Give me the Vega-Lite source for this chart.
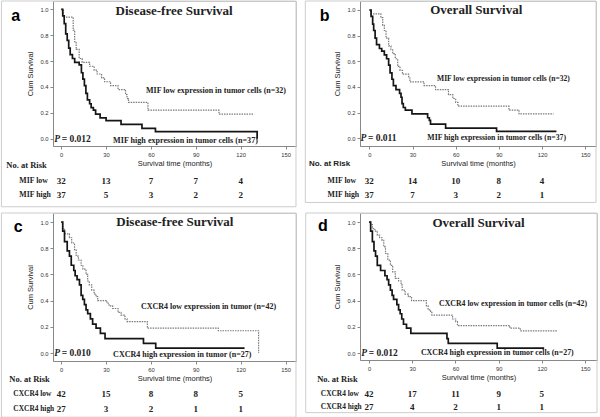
{
"$schema":"https://vega.github.io/schema/vega-lite/v6.json",
"padding":{"left":0,"top":0,"right":2,"bottom":0},
"columns":2,
"spacing":{"row":4,"column":7},
"config":{
 "view":{"stroke":"#c4c4c4","strokeWidth":1},
 "text":{"font":"Liberation Serif","fontWeight":"bold","fontSize":9,"color":"#222","baseline":"middle"},
 "rect":{"fillOpacity":0,"stroke":"#cdcdcd","strokeWidth":1},
 "axis":{"labelFont":"Liberation Sans","labelFontSize":5.8,"labelColor":"#333","labelOverlap":false,"labelFlush":false,"titleFont":"Liberation Sans","titleFontSize":7.5,"titleFontWeight":"normal","titleColor":"#222","tickSize":3,"tickColor":"#888","domainColor":"#888","grid":false}
},
"datasets":{
 "km_a":[
  {"group":"low","t":0,"s":1},{"group":"low","t":1.5,"s":0.94},{"group":"low","t":8,"s":0.84},{"group":"low","t":9,"s":0.75},{"group":"low","t":10,"s":0.69},{"group":"low","t":12,"s":0.62},{"group":"low","t":14,"s":0.59},{"group":"low","t":19,"s":0.56},{"group":"low","t":22,"s":0.53},{"group":"low","t":24,"s":0.5},{"group":"low","t":27,"s":0.47},{"group":"low","t":29,"s":0.44},{"group":"low","t":33,"s":0.41},{"group":"low","t":38,"s":0.38},{"group":"low","t":43,"s":0.34},{"group":"low","t":44,"s":0.31},{"group":"low","t":45,"s":0.28},{"group":"low","t":58,"s":0.22},{"group":"low","t":105.5,"s":0.19},{"group":"low","t":129,"s":0.19},
  {"group":"high","t":0,"s":1},{"group":"high","t":1,"s":0.95},{"group":"high","t":2,"s":0.89},{"group":"high","t":3,"s":0.81},{"group":"high","t":4,"s":0.76},{"group":"high","t":5,"s":0.7},{"group":"high","t":6,"s":0.65},{"group":"high","t":7.5,"s":0.62},{"group":"high","t":9,"s":0.59},{"group":"high","t":12,"s":0.57},{"group":"high","t":13.5,"s":0.51},{"group":"high","t":14.5,"s":0.46},{"group":"high","t":15.5,"s":0.41},{"group":"high","t":16.5,"s":0.35},{"group":"high","t":17.5,"s":0.3},{"group":"high","t":19,"s":0.27},{"group":"high","t":20,"s":0.24},{"group":"high","t":21.5,"s":0.22},{"group":"high","t":23,"s":0.19},{"group":"high","t":26,"s":0.16},{"group":"high","t":30,"s":0.14},{"group":"high","t":40,"s":0.11},{"group":"high","t":54,"s":0.08},{"group":"high","t":63,"s":0.054},{"group":"high","t":131,"s":0}
 ],
 "km_b":[
  {"group":"low","t":0,"s":1},{"group":"low","t":1,"s":0.97},{"group":"low","t":8,"s":0.94},{"group":"low","t":9.3,"s":0.88},{"group":"low","t":10.4,"s":0.84},{"group":"low","t":11.6,"s":0.78},{"group":"low","t":13.4,"s":0.72},{"group":"low","t":15,"s":0.69},{"group":"low","t":16.2,"s":0.66},{"group":"low","t":18,"s":0.62},{"group":"low","t":19.7,"s":0.56},{"group":"low","t":21.3,"s":0.53},{"group":"low","t":23,"s":0.5},{"group":"low","t":27.3,"s":0.47},{"group":"low","t":28.2,"s":0.44},{"group":"low","t":38,"s":0.41},{"group":"low","t":46,"s":0.38},{"group":"low","t":55,"s":0.34},{"group":"low","t":58,"s":0.31},{"group":"low","t":60,"s":0.28},{"group":"low","t":61.5,"s":0.25},{"group":"low","t":97,"s":0.22},{"group":"low","t":104,"s":0.19},{"group":"low","t":128,"s":0.19},
  {"group":"high","t":0,"s":1},{"group":"high","t":1.2,"s":0.95},{"group":"high","t":2.3,"s":0.89},{"group":"high","t":3,"s":0.84},{"group":"high","t":4,"s":0.78},{"group":"high","t":5,"s":0.73},{"group":"high","t":7,"s":0.7},{"group":"high","t":8.6,"s":0.68},{"group":"high","t":10.4,"s":0.65},{"group":"high","t":12,"s":0.62},{"group":"high","t":13.4,"s":0.57},{"group":"high","t":14.4,"s":0.51},{"group":"high","t":15.7,"s":0.46},{"group":"high","t":16.7,"s":0.41},{"group":"high","t":18.5,"s":0.38},{"group":"high","t":21,"s":0.35},{"group":"high","t":22,"s":0.32},{"group":"high","t":22.7,"s":0.27},{"group":"high","t":23.6,"s":0.24},{"group":"high","t":25,"s":0.22},{"group":"high","t":29.6,"s":0.19},{"group":"high","t":40.5,"s":0.16},{"group":"high","t":41.7,"s":0.14},{"group":"high","t":42.5,"s":0.11},{"group":"high","t":53,"s":0.08},{"group":"high","t":88.4,"s":0.054},{"group":"high","t":130,"s":0.054}
 ],
 "km_c":[
  {"group":"low","t":0,"s":1},{"group":"low","t":1,"s":0.95},{"group":"low","t":2.2,"s":0.91},{"group":"low","t":5.5,"s":0.88},{"group":"low","t":7,"s":0.84},{"group":"low","t":8.9,"s":0.79},{"group":"low","t":10,"s":0.74},{"group":"low","t":11.5,"s":0.71},{"group":"low","t":13.3,"s":0.67},{"group":"low","t":14.5,"s":0.64},{"group":"low","t":16.6,"s":0.6},{"group":"low","t":17.7,"s":0.55},{"group":"low","t":18.8,"s":0.52},{"group":"low","t":20.4,"s":0.48},{"group":"low","t":22,"s":0.45},{"group":"low","t":23.3,"s":0.43},{"group":"low","t":24.4,"s":0.4},{"group":"low","t":30.6,"s":0.38},{"group":"low","t":32,"s":0.36},{"group":"low","t":34.4,"s":0.34},{"group":"low","t":38,"s":0.31},{"group":"low","t":40,"s":0.29},{"group":"low","t":42.6,"s":0.26},{"group":"low","t":44,"s":0.24},{"group":"low","t":57.6,"s":0.19},{"group":"low","t":105,"s":0.17},{"group":"low","t":132,"s":0},
  {"group":"high","t":0,"s":1},{"group":"high","t":1,"s":0.93},{"group":"high","t":2.2,"s":0.85},{"group":"high","t":4,"s":0.78},{"group":"high","t":5.5,"s":0.74},{"group":"high","t":6.7,"s":0.67},{"group":"high","t":8.4,"s":0.63},{"group":"high","t":9.3,"s":0.59},{"group":"high","t":10.6,"s":0.56},{"group":"high","t":12.2,"s":0.52},{"group":"high","t":13.3,"s":0.44},{"group":"high","t":14.4,"s":0.41},{"group":"high","t":15.5,"s":0.37},{"group":"high","t":16.6,"s":0.33},{"group":"high","t":17.7,"s":0.3},{"group":"high","t":19.5,"s":0.26},{"group":"high","t":21,"s":0.22},{"group":"high","t":23.3,"s":0.19},{"group":"high","t":26.2,"s":0.15},{"group":"high","t":29.3,"s":0.11},{"group":"high","t":55,"s":0.074},{"group":"high","t":63.2,"s":0.037},{"group":"high","t":122.6,"s":0.037}
 ],
 "km_d":[
  {"group":"low","t":0,"s":1},{"group":"low","t":1,"s":0.98},{"group":"low","t":2.3,"s":0.95},{"group":"low","t":4,"s":0.93},{"group":"low","t":5.7,"s":0.9},{"group":"low","t":7.3,"s":0.88},{"group":"low","t":9,"s":0.86},{"group":"low","t":10.2,"s":0.81},{"group":"low","t":11.4,"s":0.76},{"group":"low","t":13,"s":0.71},{"group":"low","t":14.8,"s":0.67},{"group":"low","t":16.4,"s":0.62},{"group":"low","t":18.2,"s":0.57},{"group":"low","t":20.5,"s":0.55},{"group":"low","t":22.3,"s":0.52},{"group":"low","t":23,"s":0.48},{"group":"low","t":25,"s":0.45},{"group":"low","t":27.3,"s":0.43},{"group":"low","t":29.5,"s":0.4},{"group":"low","t":39.8,"s":0.36},{"group":"low","t":41,"s":0.33},{"group":"low","t":42.7,"s":0.31},{"group":"low","t":43.6,"s":0.29},{"group":"low","t":58,"s":0.26},{"group":"low","t":60.2,"s":0.24},{"group":"low","t":61.4,"s":0.21},{"group":"low","t":97.7,"s":0.19},{"group":"low","t":105,"s":0.17},{"group":"low","t":130.7,"s":0.17},
  {"group":"high","t":0,"s":1},{"group":"high","t":1.1,"s":0.93},{"group":"high","t":2.3,"s":0.85},{"group":"high","t":3.4,"s":0.78},{"group":"high","t":4.5,"s":0.74},{"group":"high","t":5.7,"s":0.67},{"group":"high","t":8,"s":0.63},{"group":"high","t":11,"s":0.59},{"group":"high","t":12.5,"s":0.56},{"group":"high","t":13.6,"s":0.52},{"group":"high","t":14.8,"s":0.48},{"group":"high","t":16,"s":0.44},{"group":"high","t":17,"s":0.41},{"group":"high","t":19.3,"s":0.37},{"group":"high","t":20.5,"s":0.33},{"group":"high","t":21.6,"s":0.3},{"group":"high","t":22.7,"s":0.26},{"group":"high","t":23.9,"s":0.22},{"group":"high","t":26,"s":0.19},{"group":"high","t":29,"s":0.15},{"group":"high","t":54.1,"s":0.11},{"group":"high","t":55,"s":0.074},{"group":"high","t":89,"s":0.037},{"group":"high","t":121.6,"s":0.037}
 ],
 "risk_a":[{"t":0,"low":32,"high":37},{"t":30,"low":13,"high":5},{"t":60,"low":7,"high":3},{"t":90,"low":7,"high":2},{"t":120,"low":4,"high":2}],
 "risk_b":[{"t":0,"low":32,"high":37},{"t":30,"low":14,"high":7},{"t":60,"low":10,"high":3},{"t":90,"low":8,"high":2},{"t":120,"low":4,"high":1}],
 "risk_c":[{"t":0,"low":42,"high":27},{"t":30,"low":15,"high":3},{"t":60,"low":8,"high":2},{"t":90,"low":8,"high":1},{"t":120,"low":5,"high":1}],
 "risk_d":[{"t":0,"low":42,"high":27},{"t":30,"low":17,"high":4},{"t":60,"low":11,"high":2},{"t":90,"low":9,"high":1},{"t":120,"low":5,"high":1}]
},
"concat":[
 {"width":243,"height":145,"data":{"values":[{}]},
  "layer":[
   {"data":{"name":"km_a"},"mark":{"type":"line","interpolate":"step-after"},
    "encoding":{
     "x":{"field":"t","type":"quantitative","scale":{"domain":[-5.5,157],"nice":false,"zero":false},"axis":{"values":[0,30,60,90,120,150],"title":"Survival time (months)","titlePadding":3}},
     "y":{"field":"s","type":"quantitative","scale":{"domain":[-0.057,1.065],"nice":false,"zero":false},"axis":{"tickCount":6,"format":".1f","title":"Cum Survival","titlePadding":5,"labelOverlap":false}},
     "color":{"field":"group","type":"nominal","scale":{"domain":["low","high"],"range":["#7a7a7a","#151515"]},"legend":null},
     "strokeDash":{"field":"group","type":"nominal","scale":{"domain":["low","high"],"range":[[1.5,1],[1,0]]},"legend":null},
     "strokeWidth":{"field":"group","type":"nominal","scale":{"domain":["low","high"],"range":[1.2,1.7]},"legend":null}}},
   {"mark":{"type":"rect"},"encoding":{"x":{"datum":-40},"x2":{"datum":157},"y":{"datum":-0.527},"y2":{"datum":1.065}}},
   {"data":{"name":"risk_a"},"mark":{"type":"text"},"encoding":{"x":{"field":"t","type":"quantitative"},"y":{"datum":-0.325},"text":{"field":"low"}}},
   {"data":{"name":"risk_a"},"mark":{"type":"text"},"encoding":{"x":{"field":"t","type":"quantitative"},"y":{"datum":-0.435},"text":{"field":"high"}}},
   {"mark":{"type":"text","align":"left","fontSize":7.8},"encoding":{"x":{"datum":-28},"y":{"datum":-0.325},"text":{"value":"MIF low"}}},
   {"mark":{"type":"text","align":"left","fontSize":7.8},"encoding":{"x":{"datum":-28},"y":{"datum":-0.435},"text":{"value":"MIF high"}}},
   {"mark":{"type":"text","align":"left","fontSize":8.5},"encoding":{"x":{"datum":-36.7},"y":{"datum":-0.205},"text":{"value":"No. at Risk"}}},
   {"mark":{"type":"text","fontSize":13},"encoding":{"x":{"datum":75.5},"y":{"datum":0.985},"text":{"value":"Disease-free Survival"}}},
   {"mark":{"type":"text","font":"Liberation Sans","fontSize":16,"color":"#000"},"encoding":{"x":{"datum":-30.5},"y":{"datum":0.95},"text":{"value":"a"}}},
   {"mark":{"type":"text","align":"left","fontSize":8},"encoding":{"x":{"datum":56.7},"y":{"datum":0.37},"text":{"value":"MIF low expression in tumor cells (n=32)"}}},
   {"mark":{"type":"text","align":"left","fontSize":8.1},"encoding":{"x":{"datum":34.7},"y":{"datum":-0.015},"text":{"value":"MIF high expression in tumor cells (n=37)"}}},
   {"mark":{"type":"text","align":"left","fontSize":9.5,"fontStyle":"italic"},"encoding":{"x":{"datum":-4.7},"y":{"datum":0.0},"text":{"value":"P"}}},
   {"mark":{"type":"text","align":"left","fontSize":9.5,"dx":7.5},"encoding":{"x":{"datum":-4.7},"y":{"datum":0.0},"text":{"value":"= 0.012"}}}
  ]},
 {"width":236,"height":145,"data":{"values":[{}]},
  "layer":[
   {"data":{"name":"km_b"},"mark":{"type":"line","interpolate":"step-after"},
    "encoding":{
     "x":{"field":"t","type":"quantitative","scale":{"domain":[-6.5,157.5],"nice":false,"zero":false},"axis":{"values":[0,30,60,90,120,150],"title":"Survival time (months)","titlePadding":3}},
     "y":{"field":"s","type":"quantitative","scale":{"domain":[-0.06,1.07],"nice":false,"zero":false},"axis":{"tickCount":6,"format":".1f","title":"Cum Survival","titlePadding":5,"labelOverlap":false}},
     "color":{"field":"group","type":"nominal","scale":{"domain":["low","high"],"range":["#7a7a7a","#151515"]},"legend":null},
     "strokeDash":{"field":"group","type":"nominal","scale":{"domain":["low","high"],"range":[[1.5,1],[1,0]]},"legend":null},
     "strokeWidth":{"field":"group","type":"nominal","scale":{"domain":["low","high"],"range":[1.2,1.7]},"legend":null}}},
   {"mark":{"type":"rect"},"encoding":{"x":{"datum":-44.5},"x2":{"datum":157.5},"y":{"datum":-0.5},"y2":{"datum":1.07}}},
   {"data":{"name":"risk_b"},"mark":{"type":"text"},"encoding":{"x":{"field":"t","type":"quantitative"},"y":{"datum":-0.333},"text":{"field":"low"}}},
   {"data":{"name":"risk_b"},"mark":{"type":"text"},"encoding":{"x":{"field":"t","type":"quantitative"},"y":{"datum":-0.44},"text":{"field":"high"}}},
   {"mark":{"type":"text","align":"left","fontSize":7.8},"encoding":{"x":{"datum":-29},"y":{"datum":-0.333},"text":{"value":"MIF low"}}},
   {"mark":{"type":"text","align":"left","fontSize":7.8},"encoding":{"x":{"datum":-29},"y":{"datum":-0.44},"text":{"value":"MIF high"}}},
   {"mark":{"type":"text","align":"left","fontSize":8,"font":"Liberation Sans"},"encoding":{"x":{"datum":-42},"y":{"datum":-0.2},"text":{"value":"No. at Risk"}}},
   {"mark":{"type":"text","fontSize":13},"encoding":{"x":{"datum":74.3},"y":{"datum":1.0},"text":{"value":"Overall Survival"}}},
   {"mark":{"type":"text","font":"Liberation Sans","fontSize":16,"color":"#000"},"encoding":{"x":{"datum":-31},"y":{"datum":0.95},"text":{"value":"b"}}},
   {"mark":{"type":"text","align":"left","fontSize":7.6},"encoding":{"x":{"datum":47},"y":{"datum":0.46},"text":{"value":"MIF low expression in tumor cells (n=32)"}}},
   {"mark":{"type":"text","align":"left","fontSize":7.75},"encoding":{"x":{"datum":40.3},"y":{"datum":0.0},"text":{"value":"MIF high expression in tumor cells (n=37)"}}},
   {"mark":{"type":"text","align":"left","fontSize":9.5,"fontStyle":"italic"},"encoding":{"x":{"datum":-6.2},"y":{"datum":0.0},"text":{"value":"P"}}},
   {"mark":{"type":"text","align":"left","fontSize":9.5,"dx":7.5},"encoding":{"x":{"datum":-6.2},"y":{"datum":0.0},"text":{"value":"= 0.011"}}}
  ]},
 {"width":243,"height":148,"data":{"values":[{}]},
  "layer":[
   {"data":{"name":"km_c"},"mark":{"type":"line","interpolate":"step-after"},
    "encoding":{
     "x":{"field":"t","type":"quantitative","scale":{"domain":[-5.5,157],"nice":false,"zero":false},"axis":{"values":[0,30,60,90,120,150],"title":"Survival time (months)","titlePadding":3}},
     "y":{"field":"s","type":"quantitative","scale":{"domain":[-0.061,1.069],"nice":false,"zero":false},"axis":{"tickCount":6,"format":".1f","title":"Cum Survival","titlePadding":5,"labelOverlap":false}},
     "color":{"field":"group","type":"nominal","scale":{"domain":["low","high"],"range":["#7a7a7a","#151515"]},"legend":null},
     "strokeDash":{"field":"group","type":"nominal","scale":{"domain":["low","high"],"range":[[1.5,1],[1,0]]},"legend":null},
     "strokeWidth":{"field":"group","type":"nominal","scale":{"domain":["low","high"],"range":[1.2,1.7]},"legend":null}}},
   {"mark":{"type":"rect"},"encoding":{"x":{"datum":-40},"x2":{"datum":157},"y":{"datum":-0.49},"y2":{"datum":1.069}}},
   {"data":{"name":"risk_c"},"mark":{"type":"text"},"encoding":{"x":{"field":"t","type":"quantitative"},"y":{"datum":-0.313},"text":{"field":"low"}}},
   {"data":{"name":"risk_c"},"mark":{"type":"text"},"encoding":{"x":{"field":"t","type":"quantitative"},"y":{"datum":-0.427},"text":{"field":"high"}}},
   {"mark":{"type":"text","align":"left","fontSize":7.4},"encoding":{"x":{"datum":-32},"y":{"datum":-0.313},"text":{"value":"CXCR4 low"}}},
   {"mark":{"type":"text","align":"left","fontSize":7.4},"encoding":{"x":{"datum":-32},"y":{"datum":-0.427},"text":{"value":"CXCR4 high"}}},
   {"mark":{"type":"text","align":"left","fontSize":8.5},"encoding":{"x":{"datum":-34.7},"y":{"datum":-0.198},"text":{"value":"No. at Risk"}}},
   {"mark":{"type":"text","fontSize":13},"encoding":{"x":{"datum":76},"y":{"datum":1.0},"text":{"value":"Disease-free Survival"}}},
   {"mark":{"type":"text","font":"Liberation Sans","fontSize":16,"color":"#000"},"encoding":{"x":{"datum":-28.7},"y":{"datum":0.96},"text":{"value":"c"}}},
   {"mark":{"type":"text","align":"left","fontSize":8},"encoding":{"x":{"datum":53.3},"y":{"datum":0.35},"text":{"value":"CXCR4 low expression in tumor (n=42)"}}},
   {"mark":{"type":"text","align":"left","fontSize":8},"encoding":{"x":{"datum":34.7},"y":{"datum":-0.015},"text":{"value":"CXCR4 high expression in tumor (n=27)"}}},
   {"mark":{"type":"text","align":"left","fontSize":9.5,"fontStyle":"italic"},"encoding":{"x":{"datum":-4.7},"y":{"datum":0.0},"text":{"value":"P"}}},
   {"mark":{"type":"text","align":"left","fontSize":9.5,"dx":7.5},"encoding":{"x":{"datum":-4.7},"y":{"datum":0.0},"text":{"value":"= 0.010"}}}
  ]},
 {"width":237,"height":147,"data":{"values":[{}]},
  "layer":[
   {"data":{"name":"km_d"},"mark":{"type":"line","interpolate":"step-after"},
    "encoding":{
     "x":{"field":"t","type":"quantitative","scale":{"domain":[-6.3,158.3],"nice":false,"zero":false},"axis":{"values":[0,30,60,90,120,150],"title":"Survival time (months)","titlePadding":3}},
     "y":{"field":"s","type":"quantitative","scale":{"domain":[-0.053,1.069],"nice":false,"zero":false},"axis":{"tickCount":6,"format":".1f","title":"Cum Survival","titlePadding":5,"labelOverlap":false}},
     "color":{"field":"group","type":"nominal","scale":{"domain":["low","high"],"range":["#7a7a7a","#151515"]},"legend":null},
     "strokeDash":{"field":"group","type":"nominal","scale":{"domain":["low","high"],"range":[[1.5,1],[1,0]]},"legend":null},
     "strokeWidth":{"field":"group","type":"nominal","scale":{"domain":["low","high"],"range":[1.2,1.7]},"legend":null}}},
   {"mark":{"type":"rect"},"encoding":{"x":{"datum":-44},"x2":{"datum":158.3},"y":{"datum":-0.455},"y2":{"datum":1.069}}},
   {"data":{"name":"risk_d"},"mark":{"type":"text"},"encoding":{"x":{"field":"t","type":"quantitative"},"y":{"datum":-0.315},"text":{"field":"low"}}},
   {"data":{"name":"risk_d"},"mark":{"type":"text"},"encoding":{"x":{"field":"t","type":"quantitative"},"y":{"datum":-0.415},"text":{"field":"high"}}},
   {"mark":{"type":"text","align":"left","fontSize":7.4},"encoding":{"x":{"datum":-33.5},"y":{"datum":-0.315},"text":{"value":"CXCR4 low"}}},
   {"mark":{"type":"text","align":"left","fontSize":7.4},"encoding":{"x":{"datum":-33.5},"y":{"datum":-0.415},"text":{"value":"CXCR4 high"}}},
   {"mark":{"type":"text","align":"left","fontSize":8.5},"encoding":{"x":{"datum":-36},"y":{"datum":-0.198},"text":{"value":"No. at Risk"}}},
   {"mark":{"type":"text","fontSize":13},"encoding":{"x":{"datum":76},"y":{"datum":0.99},"text":{"value":"Overall Survival"}}},
   {"mark":{"type":"text","font":"Liberation Sans","fontSize":16,"color":"#000"},"encoding":{"x":{"datum":-32},"y":{"datum":0.97},"text":{"value":"d"}}},
   {"mark":{"type":"text","align":"left","fontSize":7.8},"encoding":{"x":{"datum":48.6},"y":{"datum":0.374},"text":{"value":"CXCR4 low expression in tumor cells (n=42)"}}},
   {"mark":{"type":"text","align":"left","fontSize":7.9},"encoding":{"x":{"datum":36},"y":{"datum":0.0},"text":{"value":"CXCR4 high expression in tumor cells (n=27)"}}},
   {"mark":{"type":"text","align":"left","fontSize":9.5,"fontStyle":"italic"},"encoding":{"x":{"datum":-5.5},"y":{"datum":0.0},"text":{"value":"P"}}},
   {"mark":{"type":"text","align":"left","fontSize":9.5,"dx":7.5},"encoding":{"x":{"datum":-5.5},"y":{"datum":0.0},"text":{"value":"= 0.012"}}}
  ]}
]
}
